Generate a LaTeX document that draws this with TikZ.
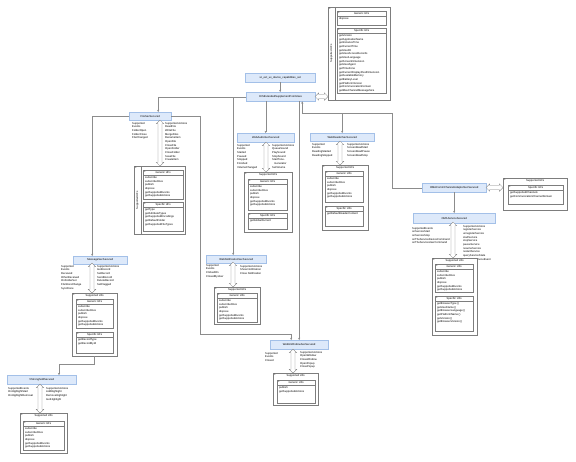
\documentclass[tikz,border=0pt]{standalone}
\usepackage{fontspec}
\setmainfont{Liberation Sans}
\usetikzlibrary{arrows.meta,shapes.arrows}

\definecolor{hdrfill}{RGB}{221,233,250}
\definecolor{hdrline}{RGB}{163,192,232}
\definecolor{boxline}{RGB}{125,125,125}
\definecolor{connline}{RGB}{140,140,140}

\newcommand\tf{\fontsize{2.7}{3.65}\selectfont}
\newcommand\genlist{subscribe\\subscribeOnce\\publish\\dispose\\getSupportedEvents\\getSupportedActions}

\tikzset{
  hdr/.style={draw=hdrline, fill=hdrfill, anchor=north west, inner sep=0, font=\tf, line width=0.45pt},
  part/.style={draw=boxline, fill=white, anchor=north west, inner sep=0, line width=0.35pt},
  lbl/.style={anchor=north west, align=left, inner sep=0, font=\tf},
  ttl/.style={inner sep=0, font=\tf},
  conn/.style={draw=connline, line width=0.45pt},
  dblarr/.style={double arrow, draw=boxline, fill=white, inner xsep=0pt, inner ysep=1.8pt,
    minimum width=0pt, double arrow head extend=1.8pt, double arrow head indent=0pt, line width=0.35pt}
}

% compartment with a title row
\newcommand{\ufpart}[7]{%
  \node[part, minimum width=#4pt, minimum height=#5pt] (#1) at (#2,#3) {};
  \node[ttl, anchor=north west] (#1-plus) at ([xshift=1pt,yshift=-0.8pt]#1.north west) {+};
  \node[ttl] (#1-title) at ([yshift=-2.4pt]#1.north) {#6};
  \draw[draw=boxline, line width=0.3pt] ([yshift=-4.8pt]#1.north west) -- ([yshift=-4.8pt]#1.north east);
  \node[lbl] (#1-list) at ([xshift=2pt,yshift=-6.4pt]#1.north west) {#7};
}
% outer Supported UFs box, title on top
\newcommand{\ufbox}[5]{%
  \node[part, minimum width=#4pt, minimum height=#5pt] (#1) at (#2,#3) {};
  \node[ttl, anchor=north west] (#1-plus) at ([xshift=1pt,yshift=-0.8pt]#1.north west) {+};
  \node[ttl] (#1-title) at ([yshift=-2.6pt]#1.north) {Supported UFs};
}
% outer Supported UFs box, title in a side strip
\newcommand{\ufboxv}[5]{%
  \node[part, minimum width=#4pt, minimum height=#5pt] (#1) at (#2,#3) {};
  \node[ttl, anchor=north west] (#1-plus) at ([xshift=1pt,yshift=-0.8pt]#1.north west) {+};
  \draw[draw=boxline, line width=0.3pt] ([xshift=7pt]#1.north west) -- ([xshift=7pt]#1.south west);
  \node[ttl, rotate=90] (#1-title) at ([xshift=3.5pt]#1.west) {Supported UFs};
}

\begin{document}
\begin{tikzpicture}[x=1pt, y=-1pt, >={Stealth[length=2.2pt,width=2.2pt]}]
    \path[fill=white] (0,0) rectangle (576,461);
    \useasboundingbox (0,0) rectangle (576,461);

    % Top of the tree
    \node[hdr, minimum width=70pt, minimum height=9pt] (B1) at (245,73) {sc\_ext\_ux\_device\_capabilities\_set};
    \node[hdr, minimum width=69pt, minimum height=9pt] (B2) at (246,92) {DISExtendedSupplementPointUses};

    % Shared UFs
    \ufboxv{TR}{328}{7}{62}{93}
    \ufpart{TRg}{337}{11}{49}{14}{Generic UFs}{dispose}
    \ufpart{TRs}{337}{28}{49}{65}{Specific UFs}{getVersion\\getApplicationName\\getInstanceTime\\getCurrentTime\\getUserID\\getUserAccessRecords\\getUserLanguage\\getScreenDimension\\getUserAgent\\getTimeZone\\getCurrentDisplayPixelDimension\\getAvailableMemory\\getBatteryLevel\\getPlatformVersion\\getCommunicationDomain\\getMaxChannelMessageSize}
    \node[dblarr, minimum height=13pt] (B2-arr) at (321.5,96.5) {};

    % File
    \node[hdr, minimum width=42pt, minimum height=8pt] (FS) at (129,112) {FileSecSecured};
    \node[lbl] (FS-ev) at (132,122) {Supported\\Events\\FolderOpen\\FolderClose\\FileChanged};
    \node[lbl] (FS-act) at (165,122) {Supported Actions\\ReadFile\\WriteFile\\MergeFiles\\RenameItem\\OpenFile\\CloseFile\\OpenFolder\\CloseFolder\\SaveFile\\CreateItem};
    \node[dblarr, rotate=90, minimum height=46pt] (FS-arr) at (160,143) {};
    \ufboxv{FSu}{134}{166}{51}{68}
    \ufpart{FSg}{143}{170}{40}{29}{Generic UFs}{\genlist}
    \ufpart{FSs}{143}{202}{40}{29}{Specific UFs}{getType\\getAttributeTypes\\getSupportedEncodings\\getDefaultFolder\\getSupportedFileTypes}

    % Audio
    \node[hdr, minimum width=57pt, minimum height=9pt] (WA) at (237,133) {WebAudioSecSecured};
    \node[lbl] (WA-ev) at (237,144) {Supported\\Events\\Started\\Paused\\Stopped\\Finished\\VolumeChanged};
    \node[lbl] (WA-act) at (272,144) {Supported Actions\\QueueSound\\PlaySound\\StopSound\\StartTone-\\\ \ \ Generator\\SetVolume};
    \node[dblarr, rotate=90, minimum height=30pt] (WA-arr) at (266,157) {};
    \ufbox{WAu}{244}{172}{48}{60}
    \ufpart{WAg}{248}{179}{39}{31}{Generic UFs}{\genlist}
    \ufpart{WAs}{248}{213}{39}{16}{Specific UFs}{getGlobalCurrent}

    % Reader
    \node[hdr, minimum width=64pt, minimum height=8pt] (WR) at (310,133) {WebReaderSecSecured};
    \node[lbl] (WR-ev) at (312,143) {Supported\\Events\\ReadingStarted\\ReadingStopped};
    \node[lbl] (WR-act) at (347,143) {Supported Actions\\ScreenReadStart\\ScreenReadPause\\ScreenReadStop};
    \node[dblarr, rotate=90, minimum height=24pt] (WR-arr) at (340,153) {};
    \ufbox{WRu}{322}{165}{46}{65}
    \ufpart{WRg}{325}{171}{38}{31}{Generic UFs}{\genlist}
    \ufpart{WRs}{325}{206}{38}{20}{Specific UFs}{getDefaultReaderContent}

    % Channel adaptor
    \node[hdr, minimum width=64pt, minimum height=9pt] (OC) at (422,183) {OMACommChannelAdaptorSecSecured};
    \node[dblarr, minimum height=17pt] (OC-arr) at (494.5,187.5) {};
    \ufbox{OCu}{503}{178}{64}{32}
    \ufpart{OCs}{508}{185}{55}{19}{Specific UFs}{getSupportedChannels\\getCommunicationChannelDomain}

    % Service
    \node[hdr, minimum width=82pt, minimum height=10pt] (OS) at (413,213) {OMAServiceSecured};
    \node[lbl] (OS-ev) at (412,227) {SupportedEvents\\onServiceStart\\onServiceStop\\onTheServiceDeviceCommand\\onTheServiceUserCommand};
    \node[lbl] (OS-act) at (463,225) {Supported Actions\\registerService\\unregisterService\\startService\\stopService\\pauseService\\resumeService\\restartService\\queryServiceState\\subscribeServiceEvent};
    \node[dblarr, rotate=90, minimum height=36pt] (OS-arr) at (453,240) {};
    \ufbox{OSu}{432}{258}{45}{77}
    \ufpart{OSg}{435}{264}{38}{28}{Generic UFs}{\genlist}
    \ufpart{OSs}{435}{296}{38}{35}{Specific UFs}{getBrowserType\,()\\getUserName\,()\\getBrowserLanguage\,()\\getPlatformName\,()\\getVersion\,()\\getBrowserVersion\,()}

    % Messaging
    \node[hdr, minimum width=54pt, minimum height=7.5pt] (MS) at (73,256) {MessageSecSecured};
    \node[lbl] (MS-ev) at (61,265) {Supported\\Events\\Received\\OtherReceived\\OnFolderSet\\FileStoreChange\\SyncDone};
    \node[lbl] (MS-act) at (97,265) {Supported Actions\\GetRecord\\SetRecord\\SendRecord\\DeleteRecord\\SetFlagged};
    \node[dblarr, rotate=90, minimum height=30pt] (MS-arr) at (92,278) {};
    \ufbox{MSu}{72}{293}{45}{63}
    \ufpart{MSg}{76}{299}{37}{29}{Generic UFs}{\genlist}
    \ufpart{MSs}{76}{332}{37}{21}{Specific UFs}{getRecordType\\getRecordById}

    % Notification
    \node[hdr, minimum width=60pt, minimum height=8pt] (WN) at (206,255) {WebNotificationSecSecured};
    \node[lbl] (WN-ev) at (206,264) {Supported\\Events\\ClickedOn\\ClosedByUser};
    \node[lbl] (WN-act) at (240,265) {Supported Actions\\Show Notification\\Close Notification};
    \node[dblarr, rotate=90, minimum height=25pt] (WN-arr) at (233,274.5) {};
    \ufbox{WNu}{214}{287}{46}{37}
    \ufpart{WNg}{217}{293}{40}{29}{Generic UFs}{\genlist}

    % Window
    \node[hdr, minimum width=58pt, minimum height=9pt] (WU) at (270,340) {WebUIWindowSecSecured};
    \node[lbl] (WU-ev) at (265,352) {Supported\\Events\\Closed};
    \node[lbl] (WU-act) at (300,351) {Supported Actions\\OpenWindow\\CloseWindow\\OpenPopup\\ClosePopup};
    \node[dblarr, rotate=90, minimum height=24pt] (WU-arr) at (293,361) {};
    \ufbox{WUu}{273}{373}{45}{32}
    \ufpart{WUg}{277}{380}{38}{23}{Generic UFs}{publish\\getSupportedActions}

    % Highlight
    \node[hdr, minimum width=69pt, minimum height=9pt] (VS) at (7,375) {VStrongholdSecured};
    \node[lbl] (VS-ev) at (8,387) {SupportedEvents\\OnHighlightStart\\OnHighlightRemoval};
    \node[lbl] (VS-act) at (46,387) {Supported Actions\\AddHighlight\\RemoveHighlight\\GetHighlight};
    \node[dblarr, rotate=90, minimum height=29pt] (VS-arr) at (40,398.5) {};
    \ufbox{VSu}{20}{413}{47}{40}
    \ufpart{VSg}{23}{421}{41}{29}{Generic UFs}{\genlist}

    % Connectors
    \coordinate (ocjoint) at (392,113);
    \coordinate (fsbend) at (200,334);
    \coordinate (vsjoint) at (59,364);
    \draw[conn,->] (B1.south) -- (B1.south |- B2.north);
    \draw[conn,->] (B2.west) -| ([xshift=8pt]FS.north);
    \draw[conn,->] (B2.west) -| ([xshift=-3pt]WN.north);
    \draw[conn,->] (B2.south -| WA.north) -- (WA.north);
    \draw[conn,->] (B2.south -| WU.north) -- (WU.north);
    \draw[conn,<-] ([xshift=21.5pt]B2.south) |- (ocjoint) |- (OC.west);
    \draw[conn,->] (WR.north |- ocjoint) -- (WR.north);
    \draw[conn,->] (OC.south) -- (OS.north);
    \draw[conn,->] (FS.east) -| (fsbend) -| ([xshift=-8pt]WU.north);
    \draw[conn,->] (FS.west) -| ([xshift=-8pt]MS.north);
    \draw[conn,->] (MSu.south) |- (vsjoint) -- (vsjoint |- VS.north);

\end{tikzpicture}
\end{document}
